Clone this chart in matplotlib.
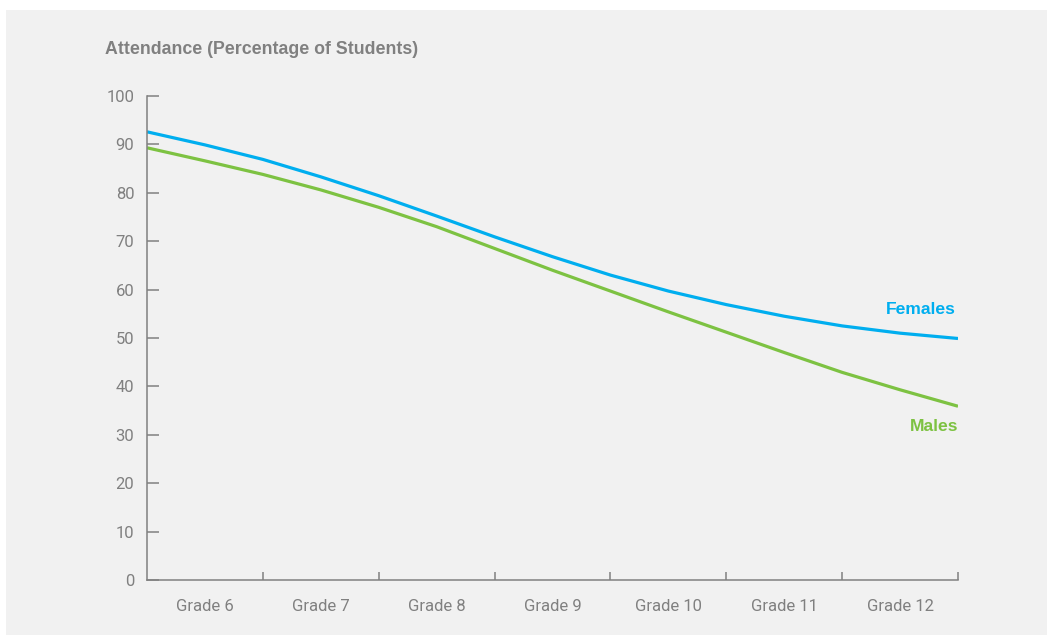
import matplotlib.pyplot as plt
from matplotlib.patches import Rectangle
import numpy as np

# data (values at category edges and centres)
grades = ['Grade 6', 'Grade 7', 'Grade 8', 'Grade 9', 'Grade 10', 'Grade 11', 'Grade 12']
pos = [0, 0.5, 1, 1.5, 2, 2.5, 3, 3.5, 4, 4.5, 5, 5.5, 6, 6.5, 7]
females = [92.6, 89.9, 86.9, 83.3, 79.4, 75.2, 70.9, 66.8, 63.0, 59.7, 56.9, 54.5, 52.5, 51.0, 49.9]
males = [89.3, 86.6, 83.8, 80.6, 77.0, 73.0, 68.5, 64.0, 59.7, 55.4, 51.2, 47.0, 42.9, 39.3, 35.9]

blue = '#00aeef'
green = '#7dc242'
grey = '#808080'

W, H = 1047, 635
fig = plt.figure(figsize=(W / 100, H / 100), dpi=100)
fig.patch.set_facecolor('white')
fig.patches.append(Rectangle((6 / W, 0), 1, 1 - 10 / H, transform=fig.transFigure,
                             facecolor='#f1f1f1', edgecolor='none', zorder=-10))

ax = fig.add_axes([147 / W, 1 - 580 / H, (958 - 147) / W, (580 - 96) / H])
ax.set_facecolor('none')
ax.set_zorder(5)

ax.plot(pos, females, color=blue, lw=2.3, solid_capstyle='butt', solid_joinstyle='round')
ax.plot(pos, males, color=green, lw=2.3, solid_capstyle='butt', solid_joinstyle='round')

ax.set_xlim(0, 7)
ax.set_ylim(0, 100)

for s in ['top', 'right']:
    ax.spines[s].set_visible(False)
for s in ['left', 'bottom']:
    ax.spines[s].set_color(grey)
    ax.spines[s].set_linewidth(1.1)

ax.set_yticks(np.arange(0, 101, 10))
ax.tick_params(axis='y', direction='in', length=8.6, width=1.1, color=grey,
               labelcolor=grey, labelsize=12, pad=9)
ax.set_xticks(range(1, 8))
ax.set_xticklabels([])
ax.tick_params(axis='x', which='major', direction='in', length=5.8, width=1.1, color=grey)
ax.set_xticks(np.arange(0.5, 7, 1), minor=True)
ax.set_xticklabels(grades, minor=True)
ax.tick_params(axis='x', which='minor', length=0, labelcolor=grey, labelsize=12, pad=14)
for lab in ax.get_xticklabels(minor=True) + ax.get_yticklabels():
    lab.set_family('Roboto')

ax.text(6.98, 55.8, 'Females', color=blue, fontsize=12.6, fontweight='bold',
        family='Liberation Sans', ha='right', va='center')
ax.text(7, 31.8, 'Males', color=green, fontsize=12.6, fontweight='bold',
        family='Liberation Sans', ha='right', va='center')

fig.text(105 / W, 1 - 49 / H, 'Attendance (Percentage of Students)', color=grey,
         fontsize=12.8, fontweight='bold', family='Liberation Sans', ha='left', va='center')

fig.savefig('out.png', dpi=100)
